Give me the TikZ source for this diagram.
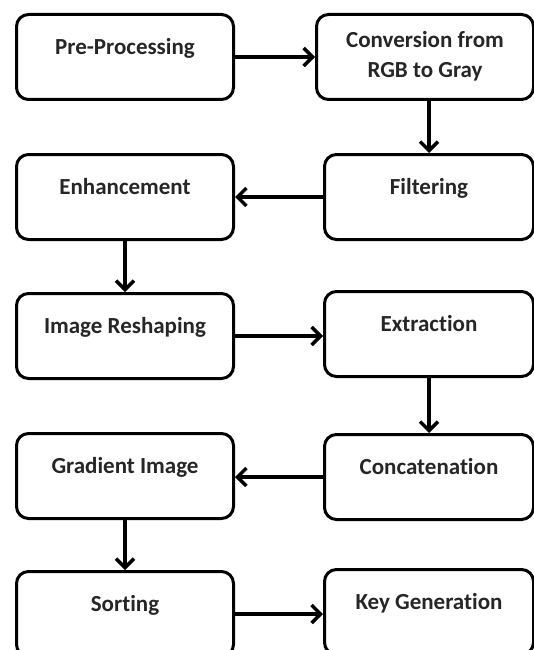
\documentclass[tikz,border=0pt]{standalone}
\usepackage{fontspec}
\setmainfont{Carlito}[Ligatures=CommonOff]
\usetikzlibrary{arrows.meta}
\tikzset{
  stage/.style={draw,line width=3pt,rounded corners=12pt,anchor=north west,
    minimum width=217pt,minimum height=85pt,inner xsep=4pt,inner ysep=0pt,
    text width=205pt,align=flush center,text height=40pt,text depth=45pt,
    font=\fontsize{23pt}{30pt}\selectfont\bfseries,text=black!85},
  narrowstage/.style={stage,minimum width=209pt,text width=198pt},
  flow/.style={line width=3.5pt,-{Straight Barb[length=9pt,width=18pt]}}
}

\begin{document}
\begin{tikzpicture}[x=1pt,y=-1pt]
\useasboundingbox (0,0) rectangle (534,650);
% left column
\node[stage] (pre) at (15,13) {Pre-Processing};
\node[stage] (enh) at (15,153) {Enhancement};
\node[stage] (resh) at (15,292) {Image Reshaping};
\node[stage] (grad) at (15,432) {Gradient Image};
\node[stage] (sort) at (15,570) {Sorting};
% right column
\node[stage,text height=33pt,text depth=52pt] (conv) at (315,13) {Conversion from\\RGB to Gray};
\node[narrowstage] (filt) at (323,153) {Filtering};
\node[narrowstage] (extr) at (323,290) {Extraction};
\node[narrowstage] (conc) at (323,433) {Concatenation};
\node[narrowstage] (key) at (323,568) {Key Generation};

% connectors
\draw[flow] (pre.east) -- (pre.east -| conv.west);
\draw[flow] (conv.south -| filt.north) -- (filt.north);
\draw[flow] (filt.west) -- (filt.west -| enh.east);
\draw[flow] (enh.south) -- (resh.north);
\draw[flow] (resh.east) -- (resh.east -| extr.west);
\draw[flow] (extr.south) -- (conc.north);
\draw[flow] (conc.west) -- (conc.west -| grad.east);
\draw[flow] (grad.south) -- (sort.north);
\draw[flow] (sort.east) -- (sort.east -| key.west);
\end{tikzpicture}
\end{document}
